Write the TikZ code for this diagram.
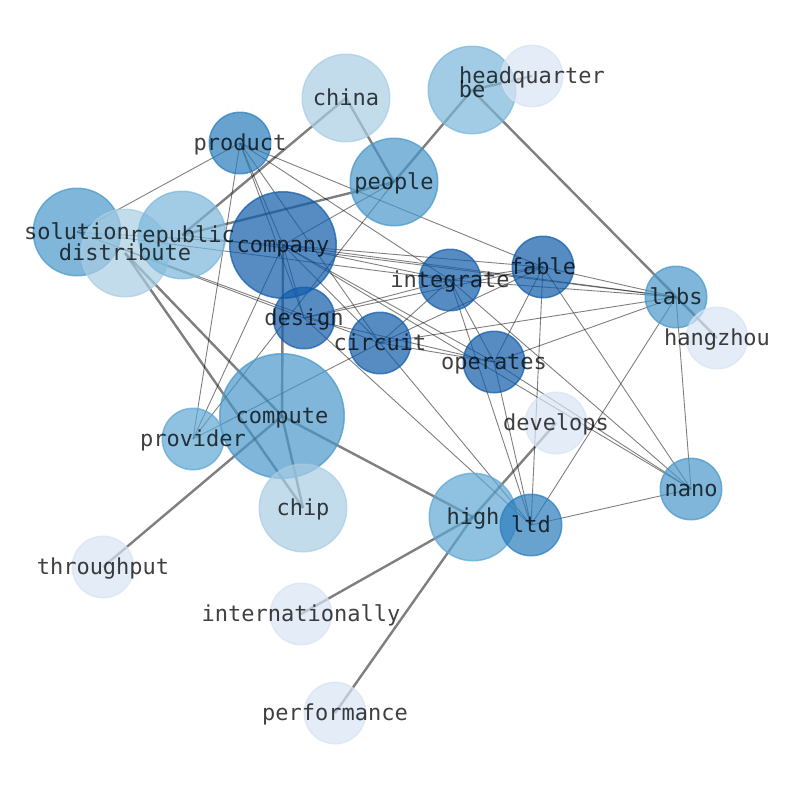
\documentclass[tikz,border=0pt]{standalone}
\usepackage{fontspec}
\usepackage{xcolor}
\usepackage{tikz}
\usetikzlibrary{backgrounds}

\newfontfamily\wordfont{DejaVu Sans Mono}

\definecolor{bl0}{RGB}{215,228,243}
\definecolor{bl1}{RGB}{168,205,228}
\definecolor{bl2}{RGB}{122,183,218}
\definecolor{bl3}{RGB}{95,166,211}
\definecolor{bl4}{RGB}{72,151,201}
\definecolor{bl5}{RGB}{40,124,188}
\definecolor{bl6}{RGB}{16,91,169}

\begin{document}
\begin{tikzpicture}[x=1pt,y=-1pt,
    word/.style={circle,draw=#1,fill=#1,opacity=0.7,line width=1.5pt,inner sep=0pt},
    smallword/.style={minimum size=61.5pt},
    midword/.style={minimum size=87.5pt},
    wordtext/.style={font=\wordfont\fontsize{22}{26}\selectfont,text=black,text opacity=0.75,
        text height=16.7pt,text depth=5.2pt,inner sep=0pt,yshift=-1.5pt},
    link/.style={draw=black,draw opacity=0.5,line width=0.9pt},
    boldlink/.style={draw=black,draw opacity=0.5,line width=2.4pt}]
    \useasboundingbox (0,0) rectangle (794,790);

    % words
    \node [word=bl4,midword] (solution) at (77,232) {};
    \node [word=bl1,midword] (distribute) at (125,253) {};
    \node [word=bl2,midword] (republic) at (182,235) {};
    \node [word=bl1,midword] (china) at (346,98) {};
    \node [word=bl5,smallword] (product) at (240,143) {};
    \node [word=bl6,minimum size=106.5pt] (company) at (283,245) {};
    \node [word=bl4,midword] (people) at (394,182) {};
    \node [word=bl2,midword] (be) at (472,90) {};
    \node [word=bl0,smallword] (headquarter) at (532,76) {};
    \node [word=bl6,smallword] (design) at (304,318) {};
    \node [word=bl6,smallword] (circuit) at (380,343) {};
    \node [word=bl6,smallword] (integrate) at (450,280) {};
    \node [word=bl6,smallword] (fable) at (543,267) {};
    \node [word=bl6,smallword] (operates) at (494,362) {};
    \node [word=bl4,smallword] (labs) at (676,297) {};
    \node [word=bl0,smallword] (hangzhou) at (717,338) {};
    \node [word=bl4,minimum size=124.5pt] (compute) at (282,416) {};
    \node [word=bl3,smallword] (provider) at (193,439) {};
    \node [word=bl1,midword] (chip) at (303,508) {};
    \node [word=bl0,smallword] (develops) at (556,423) {};
    \node [word=bl3,midword] (high) at (473,517) {};
    \node [word=bl5,smallword] (ltd) at (531,525) {};
    \node [word=bl4,smallword] (nano) at (691,489) {};
    \node [word=bl0,smallword] (throughput) at (103,567) {};
    \node [word=bl0,smallword] (internationally) at (301,614) {};
    \node [word=bl0,smallword] (performance) at (335,713) {};

    % links
    \begin{scope}[on background layer]
    \draw[boldlink] (be.center) -- (headquarter.center);
    \draw[boldlink] (be.center) -- (people.center);
    \draw[boldlink] (be.center) -- (hangzhou.center);
    \draw[boldlink] (china.center) -- (republic.center);
    \draw[boldlink] (china.center) -- (people.center);
    \draw[boldlink] (people.center) -- (republic.center);
    \draw[boldlink] (distribute.center) -- (chip.center);
    \draw[boldlink] (distribute.center) -- (compute.center);
    \draw[boldlink] (company.center) -- (compute.center);
    \draw[boldlink] (compute.center) -- (chip.center);
    \draw[boldlink] (compute.center) -- (high.center);
    \draw[boldlink] (compute.center) -- (throughput.center);
    \draw[boldlink] (high.center) -- (internationally.center);
    \draw[boldlink] (high.center) -- (performance.center);
    \draw[boldlink] (high.center) -- (develops.center);
    \draw[link] (solution.center) -- (product.center);
    \draw[link] (solution.center) -- (company.center);
    \draw[link] (solution.center) -- (integrate.center);
    \draw[link] (solution.center) -- (design.center);
    \draw[link] (solution.center) -- (circuit.center);
    \draw[link] (republic.center) -- (labs.center);
    \draw[link] (product.center) -- (provider.center);
    \draw[link] (product.center) -- (company.center);
    \draw[link] (product.center) -- (design.center);
    \draw[link] (product.center) -- (circuit.center);
    \draw[link] (product.center) -- (integrate.center);
    \draw[link] (product.center) -- (fable.center);
    \draw[link] (people.center) -- (company.center);
    \draw[link] (people.center) -- (provider.center);
    \draw[link] (company.center) -- (fable.center);
    \draw[link] (company.center) -- (integrate.center);
    \draw[link] (company.center) -- (labs.center);
    \draw[link] (company.center) -- (design.center);
    \draw[link] (company.center) -- (provider.center);
    \draw[link] (company.center) -- (circuit.center);
    \draw[link] (company.center) -- (operates.center);
    \draw[link] (company.center) -- (nano.center);
    \draw[link] (design.center) -- (integrate.center);
    \draw[link] (design.center) -- (fable.center);
    \draw[link] (design.center) -- (operates.center);
    \draw[link] (design.center) -- (ltd.center);
    \draw[link] (circuit.center) -- (integrate.center);
    \draw[link] (circuit.center) -- (fable.center);
    \draw[link] (circuit.center) -- (labs.center);
    \draw[link] (circuit.center) -- (operates.center);
    \draw[link] (circuit.center) -- (ltd.center);
    \draw[link] (circuit.center) -- (provider.center);
    \draw[link] (integrate.center) -- (fable.center);
    \draw[link] (integrate.center) -- (labs.center);
    \draw[link] (integrate.center) -- (operates.center);
    \draw[link] (integrate.center) -- (ltd.center);
    \draw[link] (integrate.center) -- (nano.center);
    \draw[link] (fable.center) -- (labs.center);
    \draw[link] (fable.center) -- (operates.center);
    \draw[link] (fable.center) -- (ltd.center);
    \draw[link] (fable.center) -- (nano.center);
    \draw[link] (operates.center) -- (labs.center);
    \draw[link] (operates.center) -- (nano.center);
    \draw[link] (operates.center) -- (ltd.center);
    \draw[link] (labs.center) -- (nano.center);
    \draw[link] (labs.center) -- (ltd.center);
    \draw[link] (ltd.center) -- (nano.center);
    \end{scope}

    % labels
    \node [wordtext] (solution-t) at (solution) {solution};
    \node [wordtext] (distribute-t) at (distribute) {distribute};
    \node [wordtext] (republic-t) at (republic) {republic};
    \node [wordtext] (china-t) at (china) {china};
    \node [wordtext] (product-t) at (product) {product};
    \node [wordtext] (company-t) at (company) {company};
    \node [wordtext] (people-t) at (people) {people};
    \node [wordtext] (be-t) at (be) {be};
    \node [wordtext] (headquarter-t) at (headquarter) {headquarter};
    \node [wordtext] (design-t) at (design) {design};
    \node [wordtext] (circuit-t) at (circuit) {circuit};
    \node [wordtext] (integrate-t) at (integrate) {integrate};
    \node [wordtext] (fable-t) at (fable) {fable};
    \node [wordtext] (operates-t) at (operates) {operates};
    \node [wordtext] (labs-t) at (labs) {labs};
    \node [wordtext] (hangzhou-t) at (hangzhou) {hangzhou};
    \node [wordtext] (compute-t) at (compute) {compute};
    \node [wordtext] (provider-t) at (provider) {provider};
    \node [wordtext] (chip-t) at (chip) {chip};
    \node [wordtext] (develops-t) at (develops) {develops};
    \node [wordtext] (high-t) at (high) {high};
    \node [wordtext] (ltd-t) at (ltd) {ltd};
    \node [wordtext] (nano-t) at (nano) {nano};
    \node [wordtext] (throughput-t) at (throughput) {throughput};
    \node [wordtext] (internationally-t) at (internationally) {internationally};
    \node [wordtext] (performance-t) at (performance) {performance};
\end{tikzpicture}
\end{document}
